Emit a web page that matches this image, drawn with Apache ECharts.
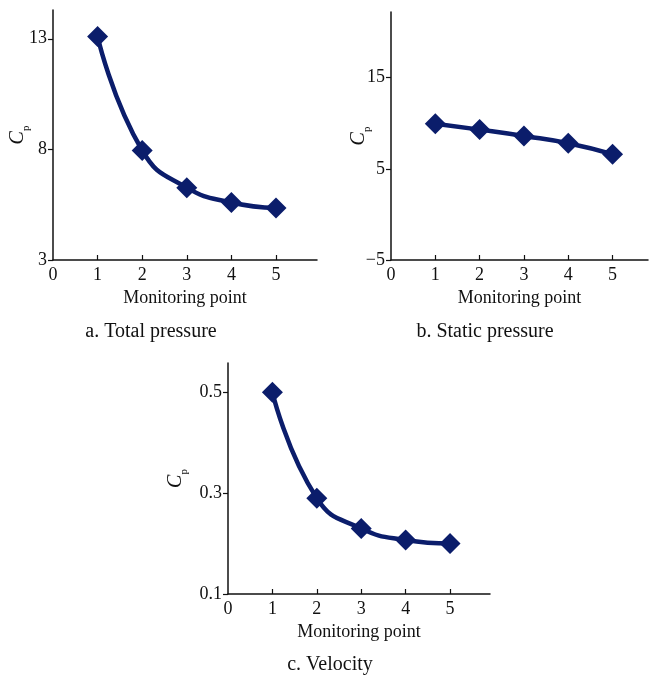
<!DOCTYPE html>
<html>
<head>
<meta charset="utf-8">
<script src="https://cdn.jsdelivr.net/npm/echarts@6/dist/echarts.min.js"></script>
<style>
  html, body { margin: 0; padding: 0; background: #fff; }
  #chart { width: 650px; height: 675px; }
</style>
</head>
<body>
<div id="chart"></div>
<script>
// Pressure / velocity coefficient at five monitoring points
const points = [1, 2, 3, 4, 5];
const totalPressure = [13.1, 7.95, 6.27, 5.6, 5.35];
const staticPressure = [9.95, 9.3, 8.6, 7.8, 6.6];
const velocity = [0.5, 0.29, 0.23, 0.207, 0.2];

const xTickLabels = [0, 1, 2, 3, 4, 5];
const yTicksTotal = [3, 8, 13];
const yTicksStatic = [-5, 5, 15];
const yTicksVelocity = [0.1, 0.3, 0.5];

const captions = ['a. Total pressure', 'b. Static pressure', 'c. Velocity'];
const xName = 'Monitoring point';

const FONT = '"Liberation Serif", "Times New Roman", serif';
const NAVY = '#0b1d6b';
const INK = '#111';

const pairs = ys => points.map((p, i) => [p, ys[i]]);

function xAxis(gridIndex, max) {
  return {
    type: 'value', gridIndex, min: 0, max, interval: 1,
    name: xName, nameLocation: 'middle', nameGap: 29, nameMoveOverlap: false,
    nameTextStyle: { fontFamily: FONT, fontSize: 18, color: INK },
    axisLine: { onZero: false, lineStyle: { color: INK, width: 1.5 } },
    axisTick: { inside: true, length: 5, lineStyle: { color: INK, width: 1.2 }, customValues: [1, 2, 3, 4, 5] },
    axisLabel: { fontFamily: FONT, fontSize: 18, color: INK, margin: 6, customValues: xTickLabels },
    splitLine: { show: false }
  };
}

function yAxis(gridIndex, min, max, interval, ticks, digits, nameGap) {
  return {
    type: 'value', gridIndex, min, max, interval,
    name: '{c|C}{p|p}', nameLocation: 'middle', nameGap, nameRotate: 90, nameMoveOverlap: false,
    nameTextStyle: {
      rich: {
        c: { fontFamily: FONT, fontSize: 20, fontStyle: 'italic', color: INK, verticalAlign: 'bottom' },
        p: { fontFamily: FONT, fontSize: 11, color: INK, verticalAlign: 'bottom', padding: [0, 0, -4, 0] }
      }
    },
    axisLine: { onZero: false, lineStyle: { color: INK, width: 1.5 } },
    axisTick: { inside: false, length: 5, lineStyle: { color: INK, width: 1.2 }, customValues: ticks },
    axisLabel: {
      fontFamily: FONT, fontSize: 18, color: INK, margin: 6, customValues: ticks,
      formatter: v => v.toFixed(digits).replace('-', '\u2212')
    },
    splitLine: { show: false }
  };
}

function series(i, ys) {
  return {
    type: 'line', xAxisIndex: i, yAxisIndex: i, data: pairs(ys),
    smooth: 0.5,
    symbol: 'diamond', symbolSize: 21,
    lineStyle: { color: NAVY, width: 4.5 },
    itemStyle: { color: NAVY },
    emphasis: { disabled: true }
  };
}

const chart = echarts.init(document.getElementById('chart'), null, { renderer: 'canvas' });
chart.setOption({
  animation: false,
  backgroundColor: '#fff',
  title: [
    { text: captions[0], left: 151, top: 322 },
    { text: captions[1], left: 485, top: 322 },
    { text: captions[2], left: 330, top: 655 }
  ].map(t => Object.assign(t, {
    textAlign: 'center', padding: 0,
    textStyle: { fontFamily: FONT, fontSize: 20, fontWeight: 'normal', color: INK }
  })),
  grid: [
    { left: 53, top: 10, width: 264, height: 250 },
    { left: 391, top: 12, width: 257, height: 248 },
    { left: 228, top: 363, width: 262, height: 231 }
  ],
  xAxis: [xAxis(0, 5.92), xAxis(1, 5.8), xAxis(2, 5.9)],
  yAxis: [
    yAxis(0, 3, 14.3, 5, yTicksTotal, 0, 25),
    yAxis(1, -5, 22.2, 10, yTicksStatic, 0, 22),
    yAxis(2, 0.1, 0.558, 0.2, yTicksVelocity, 1, 42)
  ],
  series: [series(0, totalPressure), series(1, staticPressure), series(2, velocity)]
});
</script>
</body>
</html>
